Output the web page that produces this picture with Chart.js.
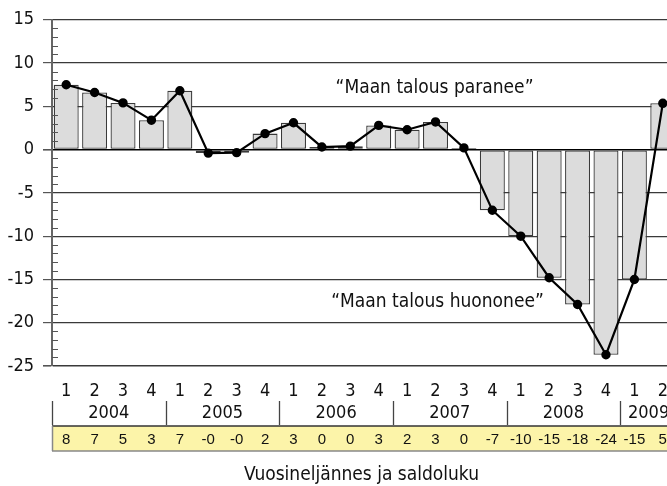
<!DOCTYPE html>
<html>
<head>
<meta charset="utf-8">
<script src="https://cdn.jsdelivr.net/npm/chart.js@4.4.1/dist/chart.umd.min.js"></script>
<style>
  html, body { margin: 0; padding: 0; background: #fff; overflow: hidden; }
  #wrap { width: 690px; height: 486px; }
</style>
</head>
<body>
<div id="wrap"><canvas id="c" width="690" height="486"></canvas></div>
<script>
// ---- data ----
const years = ['2004', '2005', '2006', '2007', '2008', '2009'];
const quarterLabels = ['1','2','3','4','1','2','3','4','1','2','3','4','1','2','3','4','1','2','3','4','1','2'];
const balance = [7.5, 6.6, 5.4, 3.4, 6.8, -0.4, -0.35, 1.85, 3.1, 0.3, 0.4, 2.8, 2.3, 3.2, 0.2, -7.0, -10.0, -14.8, -17.9, -23.7, -15.0, 5.35];
const tableLabels = ['8','7','5','3','7','-0','-0','2','3','0','0','3','2','3','0','-7','-10','-15','-18','-24','-15','5'];
const yTicks = [15, 10, 5, 0, -5, -10, -15, -20, -25];
const axisTitle = 'Vuosineljännes ja saldoluku';
const noteUp = '\u201CMaan talous paranee\u201D';
const noteDown = '\u201CMaan talous huononee\u201D';

const Y_MIN = Math.min(...yTicks), Y_MAX = Math.max(...yTicks);
const COND = "'DejaVu Sans Condensed', 'Liberation Sans Narrow', sans-serif";

const extras = {
  id: 'extras',
  afterDraw(chart) {
    const { ctx, chartArea: ca, scales: { x, y } } = chart;
    const n = quarterLabels.length;
    const step = x.getPixelForValue(1) - x.getPixelForValue(0);
    const edge = i => x.getPixelForValue(0) - step / 2 + i * step;
    ctx.save();
    // minor ticks on y axis
    ctx.strokeStyle = '#555';
    ctx.lineWidth = 1;
    for (let v = Y_MIN; v <= Y_MAX; v++) {
      if (v % 5 === 0) continue;
      const py = Math.round(y.getPixelForValue(v)) + 0.5;
      ctx.beginPath();
      ctx.moveTo(ca.left, py);
      ctx.lineTo(ca.left + 6, py);
      ctx.stroke();
    }
    // annotations
    ctx.fillStyle = '#111';
    ctx.font = '19px ' + COND;
    ctx.textAlign = 'center';
    ctx.textBaseline = 'alphabetic';
    ctx.fillText(noteUp, x.getPixelForValue(13) - 1, y.getPixelForValue(6.5));
    ctx.fillText(noteDown, x.getPixelForValue(13) + 2, y.getPixelForValue(-18.2));

    const base = ca.bottom;
    // year dividers and labels
    ctx.strokeStyle = '#444';
    ctx.lineWidth = 1.3;
    ctx.font = '18px ' + COND;
    ctx.textBaseline = 'middle';
    years.forEach((yr, i) => {
      const s = i * 4, e = Math.min(s + 4, n);
      const x0 = edge(s), x1 = edge(e);
      ctx.beginPath();
      ctx.moveTo(Math.round(x0) + 0.5, base + 35);
      ctx.lineTo(Math.round(x0) + 0.5, base + 59);
      ctx.stroke();
      ctx.fillText(yr, (x0 + x1) / 2, base + 47);
    });
    // yellow value row
    const top = base + 60, h = 25;
    ctx.fillStyle = '#fcf4a9';
    ctx.fillRect(ca.left, top, edge(n) - ca.left, h);
    ctx.strokeStyle = '#333';
    ctx.lineWidth = 1.3;
    ctx.beginPath(); ctx.moveTo(ca.left, top); ctx.lineTo(edge(n), top); ctx.stroke();
    ctx.strokeStyle = '#888';
    ctx.lineWidth = 1.5;
    ctx.beginPath(); ctx.moveTo(ca.left, top + h); ctx.lineTo(edge(n), top + h); ctx.stroke();
    ctx.beginPath(); ctx.moveTo(ca.left + 0.5, top); ctx.lineTo(ca.left + 0.5, top + h); ctx.stroke();
    ctx.fillStyle = '#111';
    ctx.font = '15px "Liberation Sans", Arial, sans-serif';
    ctx.textBaseline = 'middle';
    tableLabels.forEach((t, i) => {
      ctx.fillText(t, x.getPixelForValue(i), top + h / 2 + 1);
    });
    // axis title
    ctx.font = '19px ' + COND;
    ctx.textBaseline = 'alphabetic';
    ctx.fillText(axisTitle, (ca.left + ca.right) / 2 - 3, base + 114);
    ctx.restore();
  }
};

new Chart(document.getElementById('c'), {
  data: {
    labels: quarterLabels,
    datasets: [
      {
        type: 'line',
        data: balance,
        borderColor: '#000',
        borderWidth: 2.2,
        pointBackgroundColor: '#000',
        pointBorderColor: '#000',
        pointRadius: 3.6,
        tension: 0,
        order: 0
      },
      {
        type: 'bar',
        data: balance,
        backgroundColor: '#dcdcdc',
        borderColor: '#3a3a3a',
        borderWidth: 1.3,
        borderSkipped: false,
        categoryPercentage: 1,
        barPercentage: 0.88,
        order: 1
      }
    ]
  },
  options: {
    responsive: false,
    devicePixelRatio: 1,
    animation: false,
    layout: { padding: { top: 17, right: 13, left: 0, bottom: 0 } },
    plugins: { legend: { display: false }, tooltip: { enabled: false } },
    scales: {
      x: {
        type: 'category',
        offset: true,
        grid: { display: false, drawTicks: false },
        border: { display: false },
        ticks: {
          color: '#111',
          font: { family: COND, size: 18 },
          padding: 15,
          maxRotation: 0,
          autoSkip: false
        },
        afterFit(s) { s.height = 120; }
      },
      y: {
        min: Y_MIN,
        max: Y_MAX,
        grid: {
          color: ctx => (ctx.tick && ctx.tick.value === 0) ? '#000' : '#3a3a3a',
          lineWidth: ctx => (ctx.tick && (ctx.tick.value === 0 || ctx.tick.value === Y_MIN)) ? 1.6 : 1.2,
          tickLength: 9,
          drawTicks: true,
          tickColor: '#555'
        },
        border: { display: true, color: '#666', width: 2 },
        afterBuildTicks(s) { s.ticks = yTicks.map(v => ({ value: v })); },
        ticks: {
          color: '#111',
          font: { family: COND, size: 18 },
          padding: 9
        },
        afterFit(s) { s.width = 52; }
      }
    }
  },
  plugins: [extras]
});
</script>
</body>
</html>
